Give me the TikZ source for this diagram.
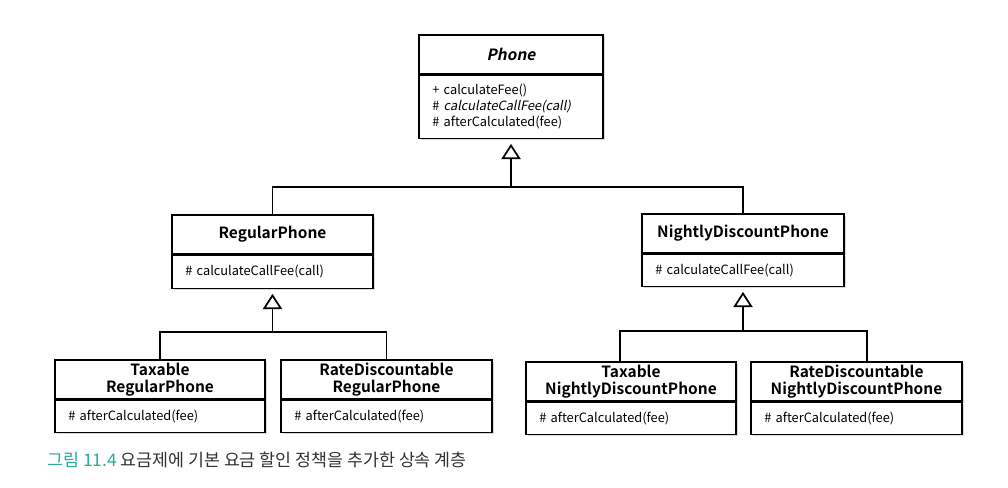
\documentclass[tikz,border=0pt]{standalone}
\usepackage{fontspec}
\setmainfont{Noto Sans CJK KR}[
    BoldFont={Noto Sans CJK KR Bold},
    ItalicFont={Noto Sans CJK KR},
    ItalicFeatures={FakeSlant=0.2},
    BoldItalicFont={Noto Sans CJK KR Bold},
    BoldItalicFeatures={FakeSlant=0.2}
]
\usetikzlibrary{
    arrows.meta,
    positioning,
    calc,
    shadows
}
\definecolor{capteal}{RGB}{38,172,156}
\definecolor{captext}{RGB}{50,50,50}
\tikzset{
    % --- Class name compartment ---
    class head/.style = {
        rectangle, draw, fill=white, line width=1.2pt,
        drop shadow={shadow xshift=1.3pt, shadow yshift=-1.3pt, opacity=0.3},
        text width=#1, inner xsep=0pt, inner ysep=2pt,
        minimum height=29.25pt, align=center,
        font=\bfseries\fontsize{11.6}{12.75}\selectfont
    },
    % --- Operation compartment ---
    class body/.style = {
        rectangle, draw, fill=white, line width=1.2pt,
        drop shadow={shadow xshift=1.3pt, shadow yshift=-1.3pt, opacity=0.3},
        text width=#1, inner xsep=10pt, inner ysep=2pt,
        minimum height=24pt, align=left,
        font=\fontsize{9.6}{12}\selectfont
    },
    % --- Generalization arrow (open triangle) ---
    inherit arrow/.style = {
        -{Triangle[open, fill=white, length=11.5pt, width=14.5pt]},
        line width=1.3pt, shorten >=3.5pt
    },
    % --- Plain branch line ---
    branch/.style = {
        line width=1.3pt
    },
    % --- Figure caption ---
    caption/.style = {
        font=\fontsize{13}{15}\selectfont, text=captext,
        inner sep=0pt
    }
}

\begin{document}
\begin{tikzpicture}[x=0.75pt, y=-0.75pt]

\useasboundingbox (0,0) rectangle (1008,487);

% ---------------------------------------------------------
% Phone (abstract base)
% ---------------------------------------------------------
\node[class head=138pt, anchor=north] (PhoneHead) at (511,34) {\textit{Phone}};
\node[class body=118pt, minimum height=47.25pt, below=0pt of PhoneHead] (PhoneBody) {%
    + calculateFee()\\
    \# \textit{calculateCallFee(call)}\\
    \# afterCalculated(fee)
};
\coordinate (PhoneFork) at ($(PhoneBody.south) + (0,48)$);

% ---------------------------------------------------------
% RegularPhone
% ---------------------------------------------------------
\node[class head=150.75pt, anchor=north] (RegHead) at (272.5,214) {RegularPhone};
\node[class body=130.75pt, minimum height=24.75pt, below=0pt of RegHead] (RegBody) {\# calculateCallFee(call)};
\coordinate (RegFork) at ($(RegBody.south) + (0,43)$);

% ---------------------------------------------------------
% NightlyDiscountPhone
% ---------------------------------------------------------
\node[class head=151.5pt, anchor=north] (NightHead) at (743,213) {NightlyDiscountPhone};
\node[class body=131.5pt, below=0pt of NightHead] (NightBody) {\# calculateCallFee(call)};
\coordinate (NightFork) at ($(NightBody.south) + (0,44)$);

% ---------------------------------------------------------
% Leaf classes
% ---------------------------------------------------------
\node[class head=157.5pt, anchor=north] (TaxRegHead) at (160,359) {Taxable\\RegularPhone};
\node[class body=137.5pt, below=0pt of TaxRegHead] (TaxRegBody) {\# afterCalculated(fee)};

\node[class head=158.25pt, anchor=north] (RateRegHead) at (386.5,359) {RateDiscountable\\RegularPhone};
\node[class body=138.25pt, below=0pt of RateRegHead] (RateRegBody) {\# afterCalculated(fee)};

\node[class head=157.5pt, anchor=north] (TaxNightHead) at (631,361) {Taxable\\NightlyDiscountPhone};
\node[class body=137.5pt, below=0pt of TaxNightHead] (TaxNightBody) {\# afterCalculated(fee)};

\node[class head=158.25pt, anchor=north] (RateNightHead) at (856.5,361) {RateDiscountable\\NightlyDiscountPhone};
\node[class body=138.25pt, below=0pt of RateNightHead] (RateNightBody) {\# afterCalculated(fee)};

% ---------------------------------------------------------
% Generalizations
% ---------------------------------------------------------
\draw[inherit arrow] (PhoneFork) -- (PhoneBody.south);
\draw[branch] (RegHead.north) |- (PhoneFork);
\draw[branch] (NightHead.north) |- (PhoneFork);

\draw[inherit arrow] (RegFork) -- (RegBody.south);
\draw[branch] (TaxRegHead.north) |- (RegFork);
\draw[branch] (RateRegHead.north) |- (RegFork);

\draw[inherit arrow] (NightFork) -- (NightBody.south);
\draw[branch] ([xshift=-8.25pt]TaxNightHead.north) |- (NightFork);
\draw[branch] ([xshift=7.9pt]RateNightHead.north) |- (NightFork);

% ---------------------------------------------------------
% Caption
% ---------------------------------------------------------
\node[caption, anchor=west] (Caption) at (47,460) {{\color{capteal}그림 11.4} 요금제에 기본 요금 할인 정책을 추가한 상속 계층};

\end{tikzpicture}
\end{document}
